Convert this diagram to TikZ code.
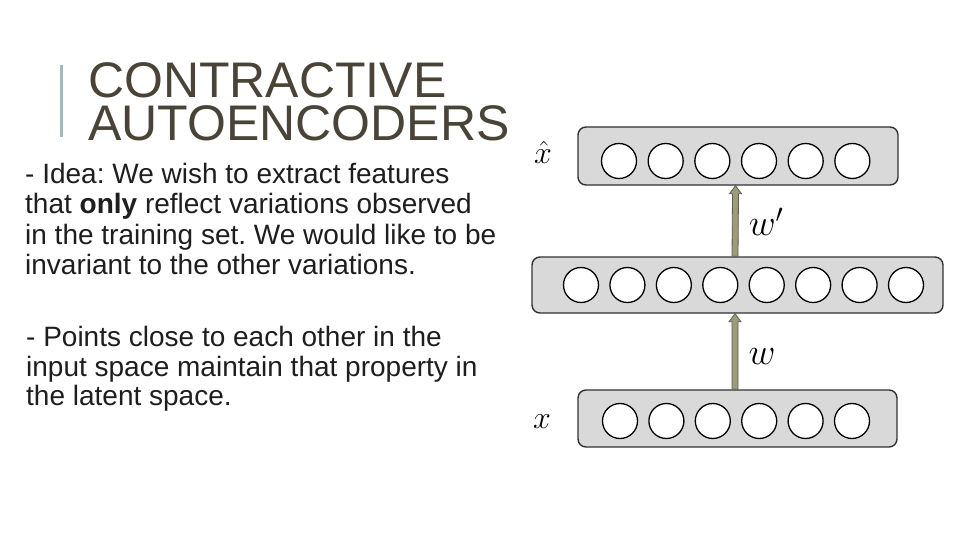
\RequirePackage{fix-cm}
\documentclass[tikz,border=0pt]{standalone}
\usepackage{fontspec}
\setmainfont{Liberation Sans}
\usetikzlibrary{calc}
\frenchspacing
\definecolor{titlec}{HTML}{4A4438}
\definecolor{barc}{HTML}{9FBDBA}
\definecolor{boxfill}{HTML}{D9D9D9}
\definecolor{boxline}{HTML}{333333}
\definecolor{arrfill}{HTML}{9C9C7C}
\definecolor{arrdraw}{HTML}{5E5E4C}
\definecolor{bodyc}{HTML}{1E1E1E}
\begin{document}
\begin{tikzpicture}[x=1pt,y=-1pt,
  layerbox/.style={draw=boxline, line width=1.4pt, fill=boxfill, rounded corners=8pt, inner sep=0pt, rectangle},
  unit/.style={circle, draw=black, line width=1.3pt, fill=white, minimum size=35pt, inner sep=0pt},
  arrowshape/.style={fill=arrfill, draw=arrdraw, line width=0.8pt, line join=miter},
  titletext/.style={anchor=base west, inner sep=0pt, text=titlec, font=\fontsize{50}{50}\selectfont},
  bodytext/.style={anchor=base west, inner sep=0pt, text=bodyc, font=\fontsize{28}{30}\selectfont},
  xlabel/.style={inner sep=0pt, font=\fontsize{32}{34}\selectfont},
  wlabel/.style={inner sep=0pt, font=\fontsize{37}{39}\selectfont},
]
\useasboundingbox (0,0) rectangle (960,540);
\fill[white] (0,0) rectangle (960,540);

% title
\draw[barc, line width=3pt] (61,65) -- (61,137);
\node[titletext] (t1) at (88,98) {CONTRACTIVE};
\node[titletext] (t2) at (88,141) {AUTOENCODERS};

% body text
\node[bodytext] (p1a) at (25,183) {- Idea: We wish to extract features};
\node[bodytext] (p1b) at (25,213.5) {that \textbf{only} reflect variations observed};
\node[bodytext] (p1c) at (25,244) {in the training set. We would like to be};
\node[bodytext] (p1d) at (25,274.5) {invariant to the other variations.};
\node[bodytext] (p2a) at (26,346) {- Points close to each other in the};
\node[bodytext] (p2b) at (26,376) {input space maintain that property in};
\node[bodytext] (p2c) at (26,405) {the latent space.};

% layers
\node[layerbox, minimum width=320pt, minimum height=58pt] (top) at (738,156) {};
\node[layerbox, minimum width=411pt, minimum height=56pt] (mid) at (737.5,285) {};
\node[layerbox, minimum width=319pt, minimum height=57pt] (bot) at (737.5,418.5) {};

\foreach \i in {0,...,5} \node[unit] (tu\i) at (619+46.67*\i,161) {};
\foreach \i in {0,...,7} \node[unit] (mu\i) at (581+46.43*\i,285) {};
\foreach \i in {0,...,5} \node[unit] (bu\i) at (620+46.4*\i,421) {};

% arrows
\filldraw[arrowshape] ($(mid.north)+(-5.5,0)$) -- ($(top.south)+(-5.5,8)$) -- ($(top.south)+(-8.5,8)$)
  -- ($(top.south)+(-2.5,0)$) -- ($(top.south)+(3.5,8)$) -- ($(top.south)+(0.5,8)$) -- ($(mid.north)+(0.5,0)$) -- cycle;
\filldraw[arrowshape] ($(bot.north)+(-5.5,0)$) -- ($(mid.south)+(-5.5,8)$) -- ($(mid.south)+(-8.5,8)$)
  -- ($(mid.south)+(-2.5,0)$) -- ($(mid.south)+(3.5,8)$) -- ($(mid.south)+(0.5,8)$) -- ($(bot.north)+(0.5,0)$) -- cycle;

% labels
\node[xlabel] (lxh) at (543,152) {$\hat{x}$};
\node[xlabel] (lx) at (542,422) {$x$};
\node[wlabel] (lw1) at (766,222) {$w'$};
\node[wlabel] (lw) at (762,357) {$w$};
\end{tikzpicture}
\end{document}
